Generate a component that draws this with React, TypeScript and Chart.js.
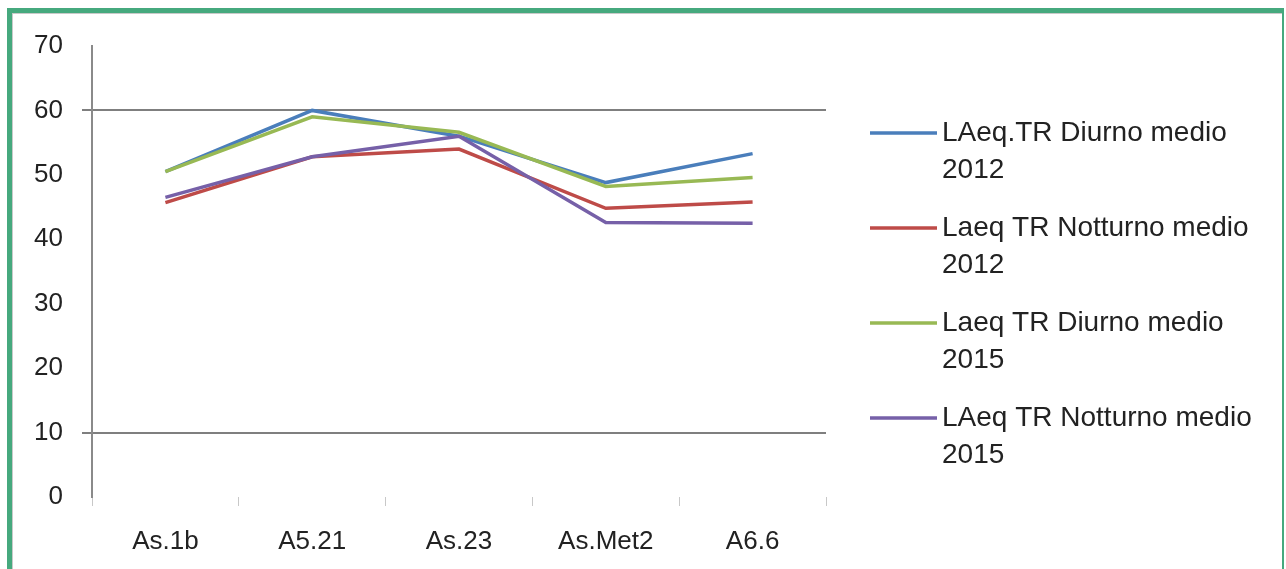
import React, { useEffect, useRef } from "react";
import { Chart, registerables } from "chart.js";

Chart.register(...registerables);

// Measurement stations along the x axis
const stations = ["As.1b", "A5.21", "As.23", "As.Met2", "A6.6"];

// Series names (shown in the legend on the right)
const seriesNames = [
  "LAeq.TR Diurno medio 2012",
  "Laeq TR Notturno medio 2012",
  "Laeq TR Diurno medio 2015",
  "LAeq TR Notturno medio 2015",
];

// Average levels in dB(A)
const diurno2012 = [50.5, 60.0, 56.0, 48.8, 53.3];
const notturno2012 = [45.7, 52.8, 54.0, 44.8, 45.8];
const diurno2015 = [50.5, 59.0, 56.6, 48.2, 49.6];
const notturno2015 = [46.5, 52.8, 56.0, 42.6, 42.5];

const seriesColors = ["#4A7EBB", "#BE4B48", "#98B954", "#7660A8"];

// Y axis range and the levels that get a reference line
const yMin = 0;
const yMax = 70;
const yStep = 10;
const referenceLevels = [10, 60];

const FONT = "'Liberation Sans', Arial, sans-serif";

// Draws the two-line legend entries to the right of the plot
const sideLegend = {
  id: "sideLegend",
  afterDraw(chart: any) {
    const { ctx, chartArea } = chart;
    ctx.save();
    ctx.font = `28px ${FONT}`;
    ctx.fillStyle = "#222";
    ctx.textBaseline = "middle";
    ctx.textAlign = "left";
    chart.data.datasets.forEach((ds: any, i: number) => {
      const y = chartArea.top + 87 + i * 95;
      const x0 = chartArea.right + 44;
      ctx.strokeStyle = ds.borderColor;
      ctx.lineWidth = 3.5;
      ctx.beginPath();
      ctx.moveTo(x0, y);
      ctx.lineTo(x0 + 67, y);
      ctx.stroke();
      const label: string = ds.label;
      const cut = label.lastIndexOf(" ");
      const lines = [label.slice(0, cut), label.slice(cut + 1)];
      lines.forEach((line, k) => {
        ctx.fillText(line, x0 + 72, y + k * 37);
      });
    });
    ctx.restore();
  },
};

export default function App() {
  const canvasRef = useRef<HTMLCanvasElement | null>(null);

  useEffect(() => {
    if (!canvasRef.current) return;
    const values = [diurno2012, notturno2012, diurno2015, notturno2015];
    const chart = new Chart(canvasRef.current, {
      type: "line",
      data: {
        labels: stations,
        datasets: values.map((v, i) => ({
          label: seriesNames[i],
          data: v,
          borderColor: seriesColors[i],
          backgroundColor: seriesColors[i],
          borderWidth: 3.5,
          pointRadius: 0,
          tension: 0,
          order: 4 - i,
        })),
      },
      options: {
        responsive: false,
        animation: false,
        events: [],
        layout: { padding: { left: 0, top: 46, right: 460, bottom: 0 } },
        plugins: {
          legend: { display: false },
          tooltip: { enabled: false },
        },
        scales: {
          x: {
            offset: true,
            afterFit: (s: any) => {
              s.height = 72;
            },
            border: { display: false },
            grid: {
              offset: true,
              drawOnChartArea: false,
              drawTicks: true,
              tickLength: 9,
              color: "#c8c8c8",
              lineWidth: 1,
            },
            ticks: {
              color: "#222",
              padding: 20,
              font: { family: FONT, size: 26 },
              maxRotation: 0,
            },
          },
          y: {
            min: yMin,
            max: yMax,
            afterFit: (s: any) => {
              s.width = 92;
            },
            border: { display: true, color: "#8a8a8a", width: 2 },
            grid: {
              drawTicks: true,
              tickLength: 10,
              lineWidth: 2,
              color: (c: any) =>
                referenceLevels.includes(c.tick?.value) ? "#7f7f7f" : "rgba(0,0,0,0)",
            },
            ticks: {
              stepSize: yStep,
              color: "#222",
              padding: 19,
              font: { family: FONT, size: 26 },
            },
          },
        },
      },
      plugins: [sideLegend],
    });
    return () => chart.destroy();
  }, []);

  return (
    <div
      style={{
        position: "fixed",
        left: 0,
        top: 0,
        width: 1286,
        height: 569,
        background: "#fff",
        overflow: "hidden",
      }}
    >
      <div
        style={{
          position: "absolute",
          left: 7,
          top: 8,
          width: 1270,
          height: 620,
          borderLeft: "5px solid #46A97E",
          borderTop: "5px solid #46A97E",
          borderRight: "2px solid #46A97E",
          boxShadow: "inset 1px 1px 0 #c9c9c9",
        }}
      />
      <canvas
        ref={canvasRef}
        width={1286}
        height={569}
        style={{ position: "absolute", left: 0, top: 0 }}
      />
    </div>
  );
}
